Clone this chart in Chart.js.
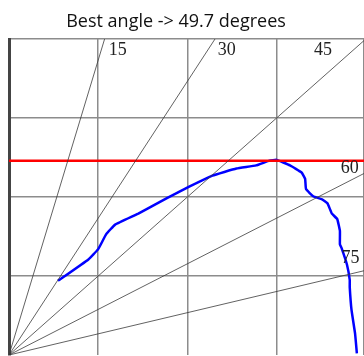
<!DOCTYPE html>
<html lang="en">
<head>
  <meta charset="utf-8" />
  <title>Best angle</title>
  <script src="https://cdn.jsdelivr.net/npm/chart.js@4.4.1/dist/chart.umd.min.js"></script>
  <style>
    html, body { margin: 0; padding: 0; background: #fff; }
    #wrap { width: 364px; height: 356px; }
  </style>
</head>
<body>
  <div id="wrap"><canvas id="chart"></canvas></div>
  <script>
    // angles of the guide lines, measured from the vertical
    const angles = [15, 30, 45, 60, 75];
    const angleLabels = ["15", "30", "45", "60", "75"];
    // the measured curve
    const curveX = [0.55, 0.89, 1.00, 1.09, 1.19, 1.45, 1.76, 2.02, 2.28, 2.55, 2.77, 2.92, 3.00,
      3.15, 3.28, 3.32, 3.33, 3.41, 3.51, 3.57, 3.62, 3.68, 3.71, 3.71, 3.73, 3.79, 3.82, 3.82,
      3.84, 3.88, 3.90];
    const curveY = [0.94, 1.21, 1.34, 1.53, 1.65, 1.79, 1.98, 2.13, 2.27, 2.36, 2.40, 2.46, 2.47,
      2.40, 2.31, 2.23, 2.10, 2.01, 1.97, 1.92, 1.79, 1.72, 1.57, 1.40, 1.35, 1.14, 0.95, 0.86,
      0.57, 0.27, 0.02];
    const bestHeight = 2.46;
    const titleText = "Best angle -> 49.7 degrees";

    const datasets = [];
    // guide lines from the origin, clipped by the chart area
    angles.forEach((a) => {
      const r = a * Math.PI / 180;
      datasets.push({
        data: [{ x: 0, y: 0 }, { x: 10 * Math.sin(r), y: 10 * Math.cos(r) }],
        borderColor: "#3a3a3a",
        borderWidth: 0.8,
        showLine: true,
        pointRadius: 0
      });
    });
    // best height line
    datasets.push({
      data: [{ x: 0, y: bestHeight }, { x: 10, y: bestHeight }],
      borderColor: "#ff0000",
      borderWidth: 2.5,
      showLine: true,
      pointRadius: 0
    });
    // curve
    datasets.push({
      data: curveX.map((x, i) => ({ x: x, y: curveY[i] })),
      borderColor: "#0000ff",
      borderWidth: 2.5,
      showLine: true,
      tension: 0.1,
      pointRadius: 0
    });

    // labels of the guide lines and the title
    const labelPlugin = {
      id: "labels",
      afterDraw(chart) {
        const ctx = chart.ctx;
        const xs = chart.scales.x, ys = chart.scales.y;
        const anchors = [[1.22, 3.86], [2.44, 3.86], [3.52, 3.86], [3.82, 2.37], [3.83, 1.22]];
        ctx.save();
        ctx.fillStyle = "#222";
        ctx.font = "18px 'Liberation Serif'";
        ctx.textAlign = "center";
        ctx.textBaseline = "middle";
        angleLabels.forEach((t, i) => {
          ctx.fillText(t, xs.getPixelForValue(anchors[i][0]), ys.getPixelForValue(anchors[i][1]));
        });
        ctx.font = "18px 'Open Sans'";
        ctx.fillStyle = "#111";
        ctx.textBaseline = "alphabetic";
        ctx.fillText(titleText, 176, 27);
        ctx.restore();
      }
    };

    new Chart(document.getElementById("chart"), {
      type: "scatter",
      data: { datasets: datasets },
      plugins: [labelPlugin],
      options: {
        responsive: true,
        maintainAspectRatio: false,
        animation: false,
        layout: { padding: { top: 39, left: 9, right: 0, bottom: 1 } },
        plugins: { legend: { display: false }, tooltip: { enabled: false } },
        scales: {
          x: {
            type: "linear",
            min: 0,
            max: 3.98,
            ticks: { display: false, stepSize: 1 },
            grid: { color: "#8c8c8c", lineWidth: 1.5, drawTicks: false },
            border: { display: false }
          },
          y: {
            type: "linear",
            min: 0,
            max: 4,
            ticks: { display: false, stepSize: 1 },
            grid: {
              color: (c) => c.tick && c.tick.value === 0 ? "rgba(0,0,0,0)" : "#8c8c8c",
              lineWidth: 1.5,
              drawTicks: false
            },
            border: { display: true, color: "#444", width: 3 }
          }
        }
      }
    });
  </script>
</body>
</html>
